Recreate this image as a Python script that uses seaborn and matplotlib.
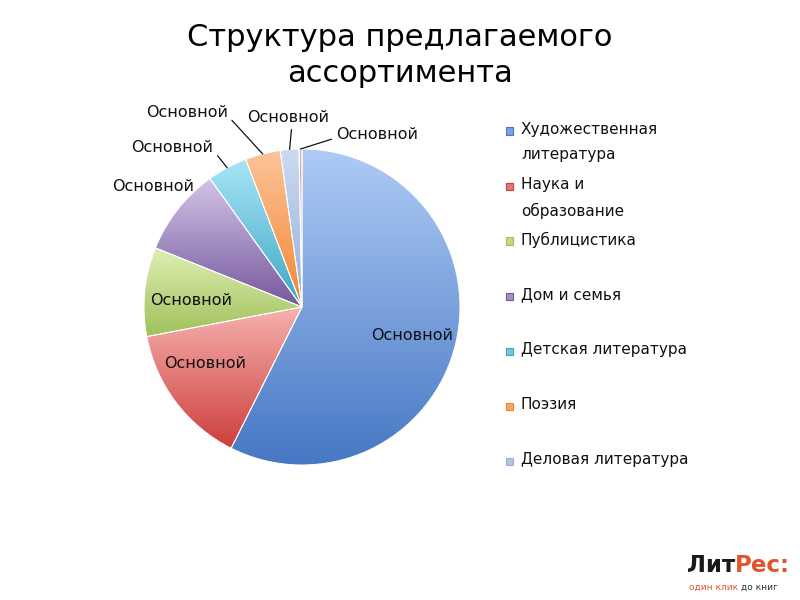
import numpy as np
import matplotlib
matplotlib.use("Agg")
from matplotlib import pyplot as plt
from matplotlib.patches import Rectangle
import seaborn as sns

title = "Структура предлагаемого\nассортимента"
categories = ["Художественная\nлитература", "Наука и\nобразование", "Публицистика",
              "Дом и семья", "Детская литература", "Поэзия", "Деловая литература", ""]
shares = [57.4, 14.6, 9.1, 9.0, 4.1, 3.6, 1.9, 0.3]
slice_labels = ["Основной"] * 8

# light (top) and dark (bottom) ends of each slice gradient
tops = ["#AECBF5", "#F6B2B0", "#DFEEB4", "#D2C3E8", "#A8E5F6", "#FBC49A", "#CADAF1", "#EAAEAC"]
bottoms = ["#4778C4", "#CC3F3C", "#9EC15A", "#76589C", "#3EA6C5", "#F4862F", "#96B1D9", "#C0504D"]

# label layout in axes data units (pie radius = 1)
inside = {0: (0.70, -0.18), 1: (-0.61, -0.36), 2: (-0.70, 0.04)}
outside = {3: ((-0.94, 0.76), None),
           4: ((-0.82, 1.01), (1.0, 0.3)),
           5: ((-0.73, 1.23), (1.0, 0.3)),
           6: ((-0.09, 1.20), (0.55, 0.0)),
           7: ((0.475, 1.09), (0.0, 0.3))}

sns.set_theme(style="white")
plt.rcParams['font.family'] = ['DejaVu Sans']

fig = plt.figure(figsize=(8, 6), dpi=100)
fig.patch.set_facecolor("white")
ax = fig.add_axes([0.18, 0.225, 0.395, 0.5267])

wedges, _ = ax.pie(shares, startangle=90, counterclock=False, colors=bottoms,
                   wedgeprops=dict(edgecolor="white", linewidth=0.7))

for i, w in enumerate(wedges):
    cmap = sns.blend_palette([bottoms[i], tops[i]], n_colors=128, as_cmap=True)
    grad = np.linspace(0, 1, 128).reshape(-1, 1)
    bb = w.get_path().get_extents(w.get_patch_transform())
    im = ax.imshow(grad, cmap=cmap, origin="lower", aspect="auto",
                   extent=[bb.x0, bb.x1, bb.y0, bb.y1], zorder=0.5, interpolation="bilinear")
    im.set_clip_path(w)
    w.set_facecolor("none")
    w.set_zorder(1)

ax.set_xlim(-1.0, 1.0)
ax.set_ylim(-1.0, 1.0)
ax.set_aspect("equal")
ax.axis("off")

for i, w in enumerate(wedges):
    mid = np.deg2rad((w.theta1 + w.theta2) / 2)
    edge = (np.cos(mid), np.sin(mid))
    if i in outside:
        pos, rel = outside[i]
        if rel is None:
            ax.text(pos[0], pos[1], slice_labels[i], ha="center", va="center",
                    fontsize=11.5, color="#111111", clip_on=False)
        else:
            ax.annotate(slice_labels[i], xy=edge, xytext=pos, ha="center", va="center",
                        fontsize=11.5, color="#111111", annotation_clip=False,
                        arrowprops=dict(arrowstyle="-", color="#111111", lw=0.9,
                                        shrinkA=1, shrinkB=0, relpos=rel))
    else:
        ax.text(inside[i][0], inside[i][1], slice_labels[i], ha="center", va="center",
                fontsize=11.5, color="#111111", zorder=3)

fig.text(0.5, 0.908, title, ha="center", va="center", fontsize=22, color="black",
         linespacing=1.3)

# legend, one entry per named category
for i, name in enumerate(categories[:7]):
    y = 1 - (131 + 55 * i) / 600
    mid_col = sns.blend_palette([bottoms[i], tops[i]], n_colors=3)[1]
    fig.patches.append(Rectangle((506 / 800, y - 3.5 / 600), 7 / 800, 7 / 600,
                                 transform=fig.transFigure, facecolor=mid_col,
                                 edgecolor=bottoms[i], linewidth=0.8))
    fig.text(521 / 800, y + 9 / 600, name, ha="left", va="top", fontsize=11,
             color="#111111", linespacing=1.85)

fig.text(0.919, 0.046, "Лит", ha="right", va="baseline", fontsize=16.5,
         fontweight="bold", color="#1A1A1A")
fig.text(0.919, 0.046, "Рес:", ha="left", va="baseline", fontsize=16.5,
         fontweight="bold", color="#E0542E")
fig.text(0.926, 0.017, "один клик ", ha="right", va="baseline", fontsize=6.5,
         color="#E0542E")
fig.text(0.926, 0.017, "до книг", ha="left", va="baseline", fontsize=6.5,
         color="#333333")

fig.savefig("out.png", dpi=100, facecolor="white")
